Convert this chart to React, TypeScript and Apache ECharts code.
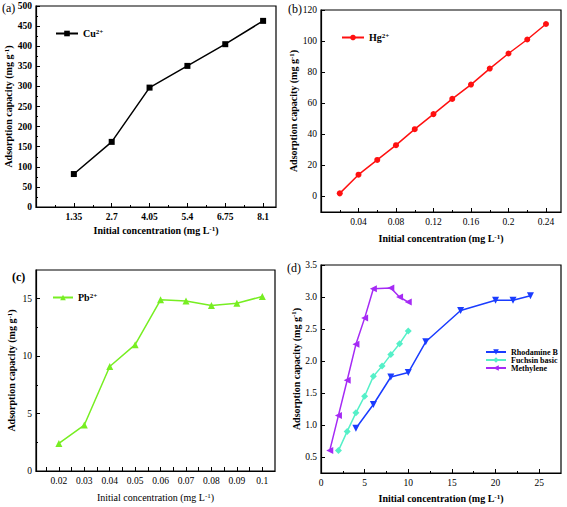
import React, { useEffect, useRef } from 'react';
import * as echarts from 'echarts';

// ---- data ----
const cuX = [1.35, 2.7, 4.05, 5.4, 6.75, 8.1];
const cuY = [82, 162, 297, 351, 405, 463];

const hgX = [0.02, 0.04, 0.06, 0.08, 0.1, 0.12, 0.14, 0.16, 0.18, 0.2, 0.22, 0.24];
const hgY = [2, 14, 23.5, 33, 43.3, 53, 62.8, 72, 82.3, 92, 101, 111];

const pbX = [0.02, 0.03, 0.04, 0.05, 0.06, 0.07, 0.08, 0.09, 0.1];
const pbY = [2.4, 4.0, 9.1, 11.0, 14.9, 14.8, 14.4, 14.6, 15.2];

const rhoX = [4, 6, 8, 10, 12, 16, 20, 22, 24];
const rhoY = [0.95, 1.32, 1.75, 1.82, 2.3, 2.79, 2.95, 2.95, 3.02];
const fucX = [2, 3, 4, 5, 6, 7, 8, 9, 10];
const fucY = [0.6, 0.9, 1.19, 1.45, 1.76, 1.92, 2.1, 2.27, 2.47];
const metX = [1, 2, 3, 4, 5, 6, 8, 9, 10];
const metY = [0.6, 1.15, 1.7, 2.26, 2.67, 3.13, 3.14, 3.0, 2.92];

// tick labels
const aXLabels = [1.35, 2.7, 4.05, 5.4, 6.75, 8.1];
const aYLabels = [0, 50, 100, 150, 200, 250, 300, 350, 400, 450, 500];
const bXLabels = [0.04, 0.08, 0.12, 0.16, 0.2, 0.24];
const bYLabels = [0, 20, 40, 60, 80, 100, 120];
const cXLabels = [0.02, 0.03, 0.04, 0.05, 0.06, 0.07, 0.08, 0.09, 0.1];
const cXMinor = [0.015, 0.025, 0.035, 0.045, 0.055, 0.065, 0.075, 0.085, 0.095];
const cYLabels = [0, 5, 10, 15];
const dXLabels = [0, 5, 10, 15, 20, 25];
const dYLabels = [0.5, 1.0, 1.5, 2.0, 2.5, 3.0, 3.5];

const FONT = 'Liberation Serif';

const nameRich = (bold: boolean) => ({
  b: { fontFamily: FONT, fontSize: 10, fontWeight: bold ? 'bold' : 'normal', color: '#000' },
  s: { fontFamily: FONT, fontSize: 7, fontWeight: bold ? 'bold' : 'normal', color: '#000', verticalAlign: 'top', padding: [0, 0, 4, 0] },
});

const fmt = (d: number) => (v: number) => {
  const s = Number(v).toFixed(d);
  return d === 1 ? s : String(+s);
};

function axis(
  dim: 'x' | 'y',
  gridIndex: number,
  min: number,
  max: number,
  labels: number[],
  ticks: number[],
  name: string,
  nameGap: number,
  bold: boolean,
  labelBold: boolean,
  dec: number,
  interval?: number,
) {
  const a: any = {
    type: 'value',
    gridIndex,
    min,
    max,
    name,
    nameLocation: 'middle',
    nameGap,
    nameTextStyle: { fontFamily: FONT, rich: nameRich(bold) },
    axisLine: { show: true, onZero: false, lineStyle: { color: '#000', width: 1.2 } },
    axisTick: { show: true, inside: true, length: 4, customValues: ticks, lineStyle: { color: '#000', width: 1 } },
    minorTick: { show: false },
    axisLabel: {
      customValues: labels,
      formatter: fmt(dec),
      fontFamily: FONT,
      fontSize: 9.5,
      fontWeight: labelBold ? 'bold' : 'normal',
      color: '#000',
      margin: dim === 'x' ? 5 : 4,
    },
    splitLine: { show: false },
  };
  if (interval !== undefined) {
    a.interval = interval;
    a.minorTick = { show: true, splitNumber: 2, length: 2, lineStyle: { color: '#000', width: 1 } };
  }
  if (dim === 'y') a.nameRotate = 90;
  return a;
}

const supLegendFmt = (name: string) => {
  const m = name.match(/^([A-Za-z]+)(\d\+)$/);
  if (m) return `{b|${m[1]}}{s|${m[2]}}`;
  return `{b|${name}}`;
};

const legendRich = (size: number) => ({
  b: { fontFamily: FONT, fontSize: size, fontWeight: 'bold', color: '#000' },
  s: { fontFamily: FONT, fontSize: 7, fontWeight: 'bold', color: '#000', verticalAlign: 'top', padding: [0, 0, 4, 0] },
});

const xName = '{b|Initial concentration (mg L}{s|-1}{b|)}';
const yName = '{b|Adsorption capacity (mg g}{s|-1}{b|)}';

const pairs = (xs: number[], ys: number[]) => xs.map((x, i) => [x, ys[i]]);

export default function App() {
  const ref = useRef<HTMLDivElement>(null);
  useEffect(() => {
    if (!ref.current) return;
    const chart = echarts.init(ref.current, undefined, { renderer: 'svg' });
    const gridBase = { show: true, borderColor: '#000', borderWidth: 1.2, backgroundColor: 'transparent' };
    const legendBase = {
      itemWidth: 22,
      itemHeight: 7,
      padding: 0,
      formatter: supLegendFmt,
      textStyle: { fontFamily: FONT, fontSize: 10, fontWeight: 'bold', rich: legendRich(10), overflow: 'none' },
    };
    const option: any = {
      animation: false,
      textStyle: { fontFamily: FONT },
      grid: [
        { ...gridBase, left: 36, top: 6, width: 240, height: 201 },
        { ...gridBase, left: 321, top: 10, width: 240, height: 202 },
        { ...gridBase, left: 36, top: 270, width: 239, height: 201 },
        { ...gridBase, left: 321, top: 265, width: 240, height: 208 },
      ],
      xAxis: [
        axis('x', 0, 0, 8.56, aXLabels, aXLabels, xName, 18, true, true, 2, 1.35),
        axis('x', 1, 0, 0.256, bXLabels, bXLabels, xName, 21, true, false, 2, 0.04),
        axis('x', 2, 0.011, 0.105, cXLabels, [...cXLabels, ...cXMinor], xName, 21, false, false, 2),
        axis('x', 3, 0, 27.5, dXLabels, dXLabels, xName, 20, true, false, 0, 5),
      ],
      yAxis: [
        axis('y', 0, 0, 500, aYLabels, aYLabels, yName, 20, true, true, 0, 50),
        axis('y', 1, -10, 120, bYLabels, bYLabels, yName, 21, true, false, 0),
        axis('y', 2, 0, 17.5, cYLabels, cYLabels, yName, 19, true, false, 0, 5),
        axis('y', 3, 0.25, 3.5, dYLabels, dYLabels, yName, 19, true, false, 1),
      ],
      legend: [
        { ...legendBase, data: ['Cu2+'], left: 55, top: 28 },
        { ...legendBase, data: ['Hg2+'], left: 341, top: 32 },
        { ...legendBase, data: ['Pb2+'], left: 52, top: 292, itemWidth: 20 },
        {
          ...legendBase,
          data: ['Rhodamine B', 'Fuchsin basic', 'Methylene'],
          orient: 'vertical',
          left: 485,
          top: 348,
          itemGap: 0,
          itemWidth: 20,
          textStyle: { fontFamily: FONT, fontSize: 8, fontWeight: 'bold', rich: legendRich(8), overflow: 'none' },
        },
      ],
      graphic: [
        { type: 'text', left: 2, top: 2, style: { text: '(a)', font: `12px ${FONT}`, fill: '#000' } },
        { type: 'text', left: 288, top: 3, style: { text: '(b)', font: `12px ${FONT}`, fill: '#000' } },
        { type: 'text', left: 12, top: 271, style: { text: '(c)', font: `bold 12px ${FONT}`, fill: '#000' } },
        { type: 'text', left: 287, top: 262, style: { text: '(d)', font: `12px ${FONT}`, fill: '#000' } },
      ],
      series: [
        {
          type: 'line', name: 'Cu2+', xAxisIndex: 0, yAxisIndex: 0, data: pairs(cuX, cuY),
          symbol: 'rect', symbolSize: 6, lineStyle: { color: '#000', width: 1.5 }, itemStyle: { color: '#000' },
        },
        {
          type: 'line', name: 'Hg2+', xAxisIndex: 1, yAxisIndex: 1, data: pairs(hgX, hgY),
          symbol: 'circle', symbolSize: 6, lineStyle: { color: '#ff1010', width: 1.5 }, itemStyle: { color: '#ff1010' },
        },
        {
          type: 'line', name: 'Pb2+', xAxisIndex: 2, yAxisIndex: 2, data: pairs(pbX, pbY),
          symbol: 'triangle', symbolSize: 7, lineStyle: { color: '#77ee22', width: 1.5 }, itemStyle: { color: '#77ee22' },
        },
        {
          type: 'line', name: 'Rhodamine B', xAxisIndex: 3, yAxisIndex: 3, data: pairs(rhoX, rhoY),
          symbol: 'triangle', symbolRotate: 180, symbolSize: 7, lineStyle: { color: '#1a3cff', width: 1.5 }, itemStyle: { color: '#1a3cff' },
        },
        {
          type: 'line', name: 'Fuchsin basic', xAxisIndex: 3, yAxisIndex: 3, data: pairs(fucX, fucY),
          symbol: 'diamond', symbolSize: 7, lineStyle: { color: '#55f0c8', width: 1.5 }, itemStyle: { color: '#55f0c8' },
        },
        {
          type: 'line', name: 'Methylene', xAxisIndex: 3, yAxisIndex: 3, data: pairs(metX, metY),
          symbol: 'triangle', symbolRotate: 90, symbolSize: 7, lineStyle: { color: '#a52af5', width: 1.5 }, itemStyle: { color: '#a52af5' },
        },
      ],
    };
    chart.setOption(option);
    return () => chart.dispose();
  }, []);
  return <div ref={ref} style={{ position: 'absolute', left: 0, top: 0, width: 567, height: 507, background: '#fff' }} />;
}
